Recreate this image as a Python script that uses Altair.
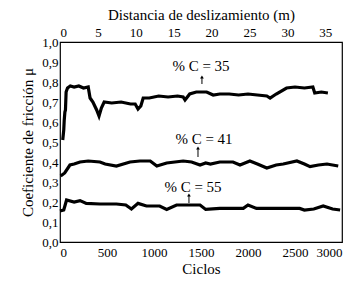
import altair as alt
import pandas as pd

# --- data ---
s35_x = [29, 40, 45, 52, 58, 65, 80, 110, 150, 200, 250, 300, 320, 350, 390, 415, 440, 470, 550, 650, 750, 800, 830, 860, 885, 950, 1050, 1150, 1250, 1310, 1330, 1380, 1450, 1560, 1630, 1700, 1800, 1900, 2000, 2100, 2200, 2235, 2300, 2410, 2500, 2600, 2690, 2710, 2780, 2850]
s35_y = [0.51, 0.56, 0.61, 0.65, 0.66, 0.75, 0.77, 0.78, 0.775, 0.78, 0.77, 0.775, 0.72, 0.70, 0.66, 0.63, 0.67, 0.70, 0.695, 0.70, 0.69, 0.69, 0.665, 0.68, 0.72, 0.72, 0.73, 0.725, 0.73, 0.725, 0.71, 0.74, 0.75, 0.75, 0.735, 0.74, 0.74, 0.735, 0.74, 0.735, 0.73, 0.72, 0.74, 0.77, 0.775, 0.77, 0.775, 0.745, 0.75, 0.745]

s41_x = [7, 50, 106, 150, 213, 300, 425, 480, 600, 745, 850, 960, 1030, 1135, 1310, 1400, 1490, 1550, 1600, 1700, 1840, 1915, 2020, 2100, 2200, 2300, 2375, 2520, 2600, 2660, 2750, 2840, 2960]
s41_y = [0.33, 0.345, 0.385, 0.39, 0.40, 0.405, 0.40, 0.39, 0.38, 0.40, 0.405, 0.405, 0.38, 0.395, 0.405, 0.40, 0.385, 0.395, 0.39, 0.40, 0.40, 0.385, 0.405, 0.39, 0.37, 0.385, 0.39, 0.405, 0.39, 0.377, 0.385, 0.39, 0.38]

s55_x = [0, 40, 70, 150, 213, 280, 425, 600, 700, 760, 830, 920, 1060, 1135, 1240, 1350, 1490, 1550, 1700, 1950, 2000, 2090, 2300, 2550, 2600, 2700, 2800, 2900, 2980]
s55_y = [0.155, 0.16, 0.21, 0.20, 0.207, 0.193, 0.19, 0.19, 0.185, 0.165, 0.193, 0.18, 0.18, 0.163, 0.185, 0.185, 0.185, 0.163, 0.168, 0.168, 0.185, 0.168, 0.168, 0.168, 0.16, 0.165, 0.18, 0.165, 0.16]

labels = ["% C = 35", "% C = 41", "% C = 55"]
label_x = [1500, 1532, 1415]
label_y = [0.88, 0.515, 0.275]
arrow_x = [1510, 1468, 1372]
arrow_y0 = [0.79, 0.425, 0.195]
arrow_y1 = [0.825, 0.47, 0.235]

cycle_ticks = [0, 500, 1000, 1500, 2000, 2500, 3000]
mu_ticks = [0.0, 0.1, 0.2, 0.3, 0.4, 0.5, 0.6, 0.7, 0.8, 0.9, 1.0]
dist_ticks = [0, 5, 10, 15, 20, 25, 30, 35]
dist_max = 37.2

FONT = "Liberation Serif"

rows = []
for name, xs, ys in [("35", s35_x, s35_y), ("41", s41_x, s41_y), ("55", s55_x, s55_y)]:
    for i, (a, b) in enumerate(zip(xs, ys)):
        rows.append({"serie": name, "ciclos": a, "mu": b, "o": i})
df = pd.DataFrame(rows)

ann = pd.DataFrame({"label": labels, "lx": label_x, "ly": label_y,
                    "ax": arrow_x, "ay0": arrow_y0, "ay1": arrow_y1})

xscale = alt.Scale(domain=[0, 3000], nice=False)
yscale = alt.Scale(domain=[0, 1], nice=False)
xaxis = alt.Axis(title="Ciclos", values=cycle_ticks, format="d", labelPadding=4, titlePadding=2)
yaxis = alt.Axis(title="Coeficiente de fricción μ", values=mu_ticks,
                 labelExpr="replace(format(datum.value, '.1f'), '.', ',')",
                 labelPadding=2, titlePadding=6)


def X(f):
    return alt.X(f, type="quantitative", scale=xscale, axis=xaxis)


def Y(f):
    return alt.Y(f, type="quantitative", scale=yscale, axis=yaxis)


lines = alt.Chart(df).mark_line(color="black", strokeWidth=3.2, strokeJoin="miter").encode(
    x=X("ciclos"), y=Y("mu"), detail="serie:N", order="o:Q",
)

text = alt.Chart(ann).mark_text(font=FONT, fontSize=15, color="black").encode(
    x=X("lx"), y=Y("ly"), text="label:N",
)

arrows = alt.Chart(ann).mark_rule(color="black", strokeWidth=1).encode(
    x=X("ax"), y=Y("ay0"), y2="ay1:Q",
)

heads = alt.Chart(ann).mark_point(shape="triangle-up", filled=True, color="black",
                                  size=14, opacity=1).encode(
    x=X("ax"), y=Y("ay1"),
)

main = alt.layer(lines, text, arrows, heads)

top = alt.Chart(pd.DataFrame({"d": [0, dist_max]})).mark_point(opacity=0).encode(
    x=alt.X("d:Q", scale=alt.Scale(domain=[0, dist_max], nice=False),
            axis=alt.Axis(orient="top", title="Distancia de deslizamiento (m)",
                          values=dist_ticks, labelPadding=3, titlePadding=4)),
    y=Y("d"),
)

chart = alt.layer(main, top).resolve_scale(x="independent").properties(
    width=282, height=200,
    autosize=alt.AutoSizeParams(type="none"),
    padding={"left": 52, "top": 34, "right": 13, "bottom": 38},
).configure_view(stroke="black", strokeWidth=1.2).configure_axis(
    domain=False, ticks=False, grid=False,
    labelFont=FONT, labelFontSize=13, labelColor="black",
    titleFont=FONT, titleFontSize=15, titleFontWeight="normal", titleColor="black",
)

chart.save("out.html", embed_options={"renderer": "svg", "actions": False})
